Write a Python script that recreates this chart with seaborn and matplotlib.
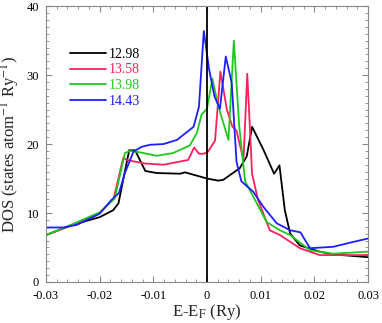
import pandas as pd
import matplotlib
matplotlib.use('Agg')
import matplotlib.pyplot as plt
import seaborn as sns
from matplotlib.ticker import MultipleLocator

# --- data ---
x_1298 = [-0.03, -0.025, -0.02, -0.0175, -0.0165, -0.0145, -0.0134, -0.0115, -0.0094, -0.005,
          -0.0041, 0.0, 0.0021, 0.003, 0.0061, 0.0074, 0.0084, 0.0105, 0.0125, 0.0135,
          0.0145, 0.0155, 0.0173, 0.021, 0.0235, 0.03]
y_1298 = [6.8, 8.3, 9.4, 10.4, 11.4, 19.1, 19.1, 16.1, 15.8, 15.7,
          15.9, 15.0, 14.7, 14.8, 16.5, 18.2, 22.5, 19.2, 15.7, 16.9,
          10.4, 7.0, 5.3, 4.4, 4.0, 3.6]

x_1358 = [-0.03, -0.025, -0.02, -0.0174, -0.0156, -0.015, -0.0118, -0.0081, -0.0035, -0.0024,
          -0.0015, -0.0006, 0.0002, 0.0015, 0.0025, 0.0037, 0.0047, 0.0055, 0.0068, 0.0075,
          0.0084, 0.0095, 0.0117, 0.0136, 0.0173, 0.021, 0.03]
y_1358 = [6.8, 8.3, 10.0, 12.1, 18.0, 17.7, 17.2, 17.0, 17.7, 19.5,
          18.6, 18.6, 18.9, 20.5, 30.5, 25.0, 22.6, 21.9, 17.7, 30.2,
          15.7, 11.9, 7.5, 6.8, 4.9, 3.9, 3.9]

x_1398 = [-0.03, -0.025, -0.02, -0.0172, -0.0153, -0.0143, -0.0125, -0.0094, -0.0063, -0.0032,
          -0.0019, -0.001, 0.0, 0.001, 0.0021, 0.004, 0.005, 0.006, 0.0071, 0.0086,
          0.0111, 0.0136, 0.0155, 0.0192, 0.0235, 0.03]
y_1398 = [6.8, 8.4, 10.1, 12.1, 18.7, 19.0, 18.8, 18.3, 18.7, 19.8,
          21.6, 24.3, 25.1, 29.5, 25.5, 20.6, 35.0, 22.6, 14.6, 12.4,
          8.7, 7.5, 6.8, 4.6, 4.1, 4.4]

x_1443 = [-0.03, -0.0267, -0.0242, -0.02, -0.0178, -0.0164, -0.0153, -0.0137, -0.0122, -0.0106,
          -0.0081, -0.0056, -0.0025, -0.0015, -0.0006, 0.0004, 0.0014, 0.0024, 0.0035, 0.0046,
          0.0055, 0.0064, 0.0086, 0.0105, 0.013, 0.0155, 0.0174, 0.0192, 0.0235, 0.0272, 0.03]
y_1443 = [7.9, 7.9, 8.3, 9.9, 11.9, 12.9, 15.8, 18.9, 19.6, 19.9,
          20.0, 20.6, 22.5, 25.4, 36.4, 30.8, 26.9, 25.1, 32.7, 28.9,
          17.4, 14.6, 13.1, 10.9, 8.5, 7.5, 7.2, 4.9, 5.1, 5.8, 6.3]

labels = ["12.98", "13.58", "13.98", "14.43"]
colors = ["#000000", "#ff1f5a", "#1ec81e", "#1e1eff"]

frames = []
for lab, xs, ys in zip(labels, [x_1298, x_1358, x_1398, x_1443],
                       [y_1298, y_1358, y_1398, y_1443]):
    frames.append(pd.DataFrame({"E": xs, "DOS": ys, "series": lab}))
df = pd.concat(frames, ignore_index=True)

sns.set_style("ticks")
plt.rcParams['font.family'] = ['Liberation Serif', 'DejaVu Serif']
plt.rcParams['mathtext.fontset'] = 'stix'

fig = plt.figure(figsize=(3.82, 3.23), dpi=100)
ax = fig.add_axes([0.1204, 0.127, 0.843, 0.854])

sns.lineplot(data=df, x="E", y="DOS", hue="series", palette=colors,
             estimator=None, sort=False, linewidth=1.3, ax=ax)
ax.axvline(0, color="black", linewidth=1.3)

ax.set_xlim(-0.03, 0.03)
ax.set_ylim(0, 40)
ax.set_xticks([-0.03, -0.02, -0.01, 0, 0.01, 0.02, 0.03])
ax.set_xticklabels(["-0.03", "-0.02", "-0.01", "0", "0.01", "0.02", "0.03"])
ax.set_yticks([0, 10, 20, 30, 40])
ax.xaxis.set_minor_locator(MultipleLocator(0.002))
ax.yaxis.set_minor_locator(MultipleLocator(1))
ax.tick_params(which="both", direction="in", top=True, right=True,
               colors="#888888", labelcolor="black", labelsize=9)
ax.tick_params(which="major", length=4, width=0.8)
ax.tick_params(which="minor", length=2, width=0.6)
ax.tick_params(axis="y", pad=5)
ax.tick_params(axis="x", pad=6)
for s in ax.spines.values():
    s.set_color("#888888")
    s.set_linewidth(0.8)

ax.set_xlabel(r"E-E$_{\rm F}$ (Ry)", fontsize=12, labelpad=0)
ax.set_ylabel(r"DOS (states atom$^{-1}$ Ry$^{-1}$)", fontsize=12, labelpad=3)

leg = ax.legend(loc="upper left", bbox_to_anchor=(0.035, 0.895), frameon=False,
                fontsize=10, labelcolor="linecolor", handlelength=2.6,
                handletextpad=0.2, labelspacing=0.2, title=None)

fig.savefig("out.png", dpi=100)
